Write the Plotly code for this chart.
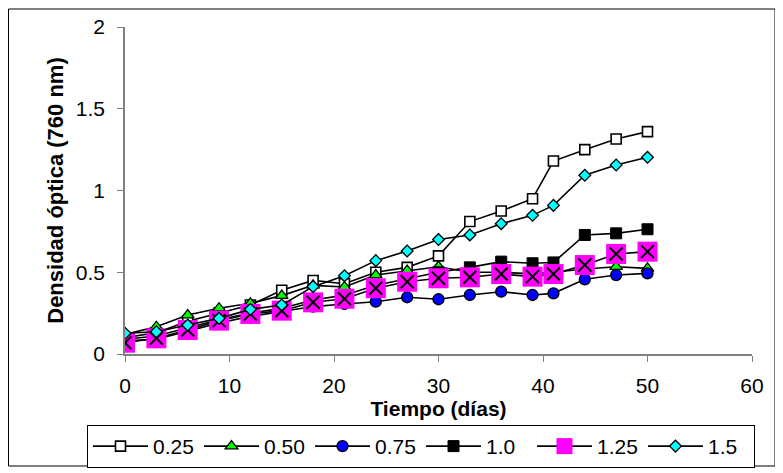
import plotly.graph_objects as go

dias = [0, 3, 6, 9, 12, 15, 18, 21, 24, 27, 30, 33, 36, 39, 41, 44, 47, 50]

s025 = [0.10, 0.13, 0.20, 0.25, 0.30, 0.39, 0.45, 0.43, 0.50, 0.53, 0.60, 0.81, 0.875, 0.95, 1.18, 1.25, 1.315, 1.36]
s050 = [0.12, 0.167, 0.238, 0.28, 0.31, 0.357, 0.42, 0.41, 0.483, 0.51, 0.534, 0.50, 0.50, 0.49, 0.50, 0.52, 0.534, 0.524]
s075 = [0.08, 0.09, 0.14, 0.19, 0.23, 0.26, 0.29, 0.306, 0.32, 0.347, 0.335, 0.361, 0.381, 0.361, 0.371, 0.457, 0.483, 0.493]
s100 = [0.09, 0.11, 0.16, 0.21, 0.25, 0.28, 0.33, 0.36, 0.42, 0.46, 0.50, 0.53, 0.565, 0.555, 0.56, 0.728, 0.738, 0.763]
s125 = [0.069, 0.096, 0.147, 0.204, 0.245, 0.265, 0.316, 0.338, 0.402, 0.442, 0.463, 0.469, 0.489, 0.473, 0.489, 0.544, 0.612, 0.626]
s150 = [0.127, 0.136, 0.177, 0.218, 0.273, 0.30, 0.412, 0.479, 0.571, 0.63, 0.70, 0.728, 0.797, 0.848, 0.909, 1.093, 1.156, 1.203]

x_ticks = [0, 10, 20, 30, 40, 50, 60]
y_ticks = [0, 0.5, 1, 1.5, 2]
y_tick_text = ["0", "0.5", "1", "1.5", "2"]

FONT = "Liberation Sans, Arial, sans-serif"
LINE = dict(color="black", width=1.6)

fig = go.Figure()

fig.add_trace(go.Scatter(x=dias, y=s025, name="0.25", mode="lines+markers", line=LINE,
                         marker=dict(symbol="square", size=10, color="white", line=dict(color="black", width=1.6))))
fig.add_trace(go.Scatter(x=dias, y=s050, name="0.50", mode="lines+markers", line=LINE,
                         marker=dict(symbol="triangle-up", size=11, color="#00ff00", line=dict(color="black", width=1.3))))
fig.add_trace(go.Scatter(x=dias, y=s075, name="0.75", mode="lines+markers", line=LINE,
                         marker=dict(symbol="circle", size=11, color="#0000ff", line=dict(color="black", width=1.3))))
fig.add_trace(go.Scatter(x=dias, y=s100, name="1.0", mode="lines+markers", line=LINE,
                         marker=dict(symbol="square", size=11, color="black", line=dict(color="black", width=1))))
fig.add_trace(go.Scatter(x=dias, y=s125, name="1.25", mode="lines+markers", line=LINE,
                         marker=dict(symbol="square", size=20, color="#ff00ff", line=dict(width=0))))
fig.add_trace(go.Scatter(x=dias, y=s125, name="1.25x", mode="markers", showlegend=False,
                         marker=dict(symbol="x-thin-open", size=13, color="black", line=dict(color="black", width=2))))
fig.add_trace(go.Scatter(x=dias, y=s150, name="1.5", mode="lines+markers", line=LINE,
                         marker=dict(symbol="diamond", size=9, color="#00ffff", line=dict(color="black", width=1.3))))

fig.update_layout(
    width=783, height=473,
    margin=dict(l=117, r=39, t=19, b=127, autoexpand=False),
    paper_bgcolor="white", plot_bgcolor="white",
    font=dict(family=FONT, size=21, color="black"),
    showlegend=True,
    legend=dict(orientation="h", x=-0.0606, y=-0.217, xanchor="left", yanchor="top",
                bordercolor="black", borderwidth=1, font=dict(size=21),
                entrywidth=41, itemwidth=55, tracegroupgap=0),
    shapes=[dict(type="rect", xref="paper", yref="paper", x0=-0.1858, x1=1.0367, y0=-0.3425, y1=1.055,
                 line=dict(color="black", width=1))],
    xaxis2=dict(overlaying="x", anchor="y", side="bottom", range=[0, 60], tickvals=x_ticks,
                ticks="inside", ticklen=6, tickcolor="#808080", tickwidth=1,
                showticklabels=False, showline=False, showgrid=False, zeroline=False),
    yaxis2=dict(overlaying="y", anchor="x", side="left", range=[0, 2], tickvals=y_ticks,
                ticks="inside", ticklen=6, tickcolor="#808080", tickwidth=1,
                showticklabels=False, showline=False, showgrid=False, zeroline=False),
)

fig.update_xaxes(selector=dict(anchor="y", overlaying=None))
fig.layout.xaxis.update(range=[0, 60], tickvals=x_ticks, showgrid=False, zeroline=False,
                        showline=True, linecolor="#808080", linewidth=1.5,
                        ticks="outside", ticklen=6, tickcolor="#808080", tickwidth=1,
                        ticklabelstandoff=6, tickfont=dict(size=21),
                        title=dict(text="<b>Tiempo (días)</b>", font=dict(size=21), standoff=2))
fig.layout.yaxis.update(range=[0, 2], tickvals=y_ticks, ticktext=y_tick_text, showgrid=False, zeroline=False,
                        showline=True, linecolor="#808080", linewidth=1.5,
                        ticks="outside", ticklen=6, tickcolor="#808080", tickwidth=1,
                        ticklabelstandoff=8, tickfont=dict(size=21),
                        title=dict(text="<b>Densidad óptica (760 nm)</b>", font=dict(size=22), standoff=6))

fig.write_html("out.html")
